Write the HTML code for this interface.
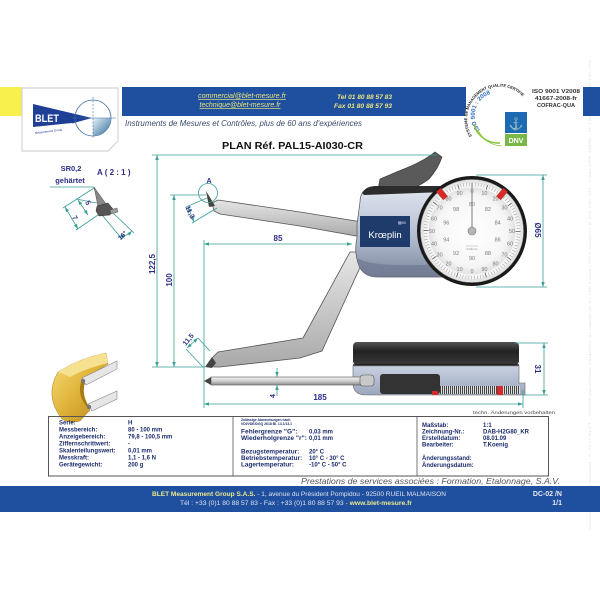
<!DOCTYPE html>
<html><head><meta charset="utf-8">
<style>
html,body{margin:0;padding:0;background:#fff;width:600px;height:600px;overflow:hidden;}
svg{display:block;}
text{font-family:"Liberation Sans",Arial,sans-serif;}
</style></head>
<body>
<svg width="600" height="600" viewBox="0 0 600 600" xmlns="http://www.w3.org/2000/svg">
<defs>
 <marker id="ar" viewBox="0 0 10 7" refX="10" refY="3.5" markerWidth="5" markerHeight="3.5" orient="auto-start-reverse" markerUnits="userSpaceOnUse"><path d="M0,0 L10,3.5 L0,7 Z" fill="#3a9e96"/></marker>
 <linearGradient id="bodyg" x1="0" y1="0" x2="0" y2="1"><stop offset="0" stop-color="#dfe5ef"/><stop offset="0.55" stop-color="#b3bdd0"/><stop offset="1" stop-color="#7c879c"/></linearGradient>
 <linearGradient id="armg" x1="0" y1="0" x2="0" y2="1"><stop offset="0" stop-color="#e6e6e6"/><stop offset="1" stop-color="#a9a9a9"/></linearGradient>
 <linearGradient id="rodg" x1="0" y1="0" x2="0" y2="1"><stop offset="0" stop-color="#f0f0f0"/><stop offset="0.5" stop-color="#cfcfcf"/><stop offset="1" stop-color="#8e8e8e"/></linearGradient>
 <linearGradient id="darkg" x1="0" y1="0" x2="0" y2="1"><stop offset="0" stop-color="#555"/><stop offset="0.4" stop-color="#222"/><stop offset="1" stop-color="#3a3a3a"/></linearGradient>
 <linearGradient id="lbg" x1="0" y1="0" x2="0" y2="1"><stop offset="0" stop-color="#c9d2e2"/><stop offset="1" stop-color="#9aa6bc"/></linearGradient>
 <radialGradient id="faceg" cx="0.5" cy="0.5" r="0.5"><stop offset="0" stop-color="#ffffff"/><stop offset="0.8" stop-color="#f6f6f6"/><stop offset="1" stop-color="#e2e2e2"/></radialGradient>
 <linearGradient id="goldg" x1="0" y1="0" x2="1" y2="1"><stop offset="0" stop-color="#f8df7a"/><stop offset="0.5" stop-color="#e0b43a"/><stop offset="1" stop-color="#b8861a"/></linearGradient>
 <linearGradient id="logoq" x1="0" y1="0" x2="1" y2="1"><stop offset="0" stop-color="#e8f2f8"/><stop offset="1" stop-color="#2a6a9a"/></linearGradient>
 <pattern id="knurl" width="2" height="8" patternUnits="userSpaceOnUse"><rect width="2" height="8" fill="#ddd"/><rect width="1" height="8" fill="#444"/></pattern>
 <path id="isoArc" d="M 472 136 A 31 31 0 1 1 527 102"/>
 <path id="isoArc2" d="M 480 130 A 21 21 0 0 1 515 101"/>
</defs>

<!-- faint watermark -->
<text transform="translate(591,530) rotate(-90)" font-size="4" fill="#e6e6e6" textLength="470" lengthAdjust="spacingAndGlyphs">Document non contractuel - © 2017 BLET - Société par Actions Simplifiée au capital de 61 200 Euros - RCS Nanterre B 302 130 783 - Code APE 4669B - N°TVA : FR 38 302 130 783</text>

<!-- HEADER -->
<rect x="0" y="87" width="22" height="29" fill="#f8f04c"/>
<rect x="122" y="87" width="344" height="29" fill="#1f4f9f"/>
<rect x="583" y="87" width="17" height="29" fill="#1f4f9f"/>
<path d="M22 88 H118 V141 L108 151 H22 Z" fill="#fff" stroke="#d4d4d4" stroke-width="1.2"/>
<!-- BLET logo -->
<polygon points="33,104 92,118 33,134" fill="#1f3e96"/>
<polygon points="33,127 72,123 74,129 33,137" fill="#fff"/>
<text x="35" y="122" font-size="11" font-weight="bold" fill="#fff" textLength="24" lengthAdjust="spacingAndGlyphs">BLET</text>
<text transform="translate(35,134) rotate(-7)" font-size="3" fill="#1f3e96">Measurement Group</text>
<circle cx="93" cy="118" r="18" fill="none" stroke="#3a6aa0" stroke-width="0.8"/>
<path d="M93 118 H111 A18 18 0 0 1 93 136 Z" fill="url(#logoq)"/>
<line x1="93" y1="97" x2="93" y2="139" stroke="#3a6aa0" stroke-width="0.6" stroke-dasharray="2 1.5"/>
<line x1="72" y1="118" x2="116" y2="118" stroke="#3a6aa0" stroke-width="0.6"/>

<text x="242" y="98" font-size="7" font-style="italic" fill="#e8e47e" text-anchor="middle" text-decoration="underline" textLength="88" lengthAdjust="spacingAndGlyphs">commercial@blet-mesure.fr</text>
<text x="240" y="107" font-size="7" font-style="italic" fill="#e8e47e" text-anchor="middle" text-decoration="underline" textLength="81" lengthAdjust="spacingAndGlyphs">technique@blet-mesure.fr</text>
<text x="392" y="99" font-size="6.8" font-style="italic" font-weight="bold" fill="#e8e47e" text-anchor="end" textLength="55" lengthAdjust="spacingAndGlyphs">Tel  01 80 88 57 83</text>
<text x="392" y="108" font-size="6.8" font-style="italic" font-weight="bold" fill="#e8e47e" text-anchor="end" textLength="58" lengthAdjust="spacingAndGlyphs">Fax 01 80 88 57 93</text>
<text x="125" y="126" font-size="8" font-style="italic" fill="#3a4a6a" textLength="237" lengthAdjust="spacingAndGlyphs">Instruments de Mesures et Contrôles, plus de 60 ans d'expériences</text>

<!-- ISO logo -->
<circle cx="498" cy="117" r="33" fill="#fff"/>
<text font-size="4" font-weight="bold" fill="#222"><textPath href="#isoArc">SYSTEME DE MANAGEMENT QUALITE CERTIFIE</textPath></text>
<text font-size="6" font-weight="bold" fill="#2b6cc4"><textPath href="#isoArc2">ISO 9001 : 2008</textPath></text>
<path d="M 474 124 A 25 25 0 0 0 500 143" fill="none" stroke="#8cc63f" stroke-width="1.6"/>
<path d="M 478 130 A 27 27 0 0 0 502 146" fill="none" stroke="#8cc63f" stroke-width="0.8"/>
<rect x="505" y="112" width="22" height="21" fill="#1d6ab4"/>
<text x="516" y="128" font-size="12" fill="#fff" text-anchor="middle">⚓</text>
<rect x="505" y="134" width="22" height="12" fill="#7ab648"/>
<text x="516" y="143" font-size="7" font-weight="bold" fill="#fff" text-anchor="middle">DNV</text>
<text x="556" y="93" font-size="5.5" font-weight="bold" fill="#333" text-anchor="middle" textLength="48" lengthAdjust="spacingAndGlyphs">ISO 9001 V2008</text>
<text x="556" y="100" font-size="5.5" font-weight="bold" fill="#333" text-anchor="middle" textLength="42" lengthAdjust="spacingAndGlyphs">41667-2008-fr</text>
<text x="556" y="107" font-size="5.5" font-weight="bold" fill="#333" text-anchor="middle" textLength="38" lengthAdjust="spacingAndGlyphs">COFRAC-QUA</text>

<text x="222" y="149" font-size="10.5" font-weight="bold" fill="#111" textLength="141" lengthAdjust="spacingAndGlyphs">PLAN  Réf. PAL15-AI030-CR</text>

<!-- CALIPER DRAWING -->
<!-- upper arm -->
<polygon points="212,203 218,200 300,212 362,222 362,237 300,226 220,214 214,211" fill="url(#armg)" stroke="#555" stroke-width="0.8"/>
<polygon points="206,191 211,199 215,206 209,207" fill="#444"/>
<!-- lower arm -->
<polygon points="212,358 218,352 303,338 350,252 367,252 322,351 300,358 220,367 214,367" fill="url(#armg)" stroke="#555" stroke-width="0.8"/>
<polygon points="205,367 212,357 216,363 212,368" fill="#444"/>

<!-- lever -->
<path d="M377 194 L380 179 Q396 172 411 166 Q425 160 435 152 L442 157 Q438 169 429 179 Q416 189 400 192 L392 196 Z" fill="#5a5a5a" stroke="#333" stroke-width="0.6"/>
<!-- body -->
<path d="M360 202 Q360 188 374 188 L446 188 L446 277 L378 277 Q362 277 358 263 Q354 250 357 238 L357 224 Z" fill="url(#bodyg)" stroke="#555" stroke-width="0.7"/>
<path d="M362 193 Q366 186 376 186 L444 186 L444 192 L364 195 Z" fill="#2c2c2c"/>
<path d="M358 258 Q370 268 446 264 L446 277 L378 277 Q362 277 358 263 Z" fill="#6e7890" opacity="0.7"/>
<rect x="360" y="216" width="50" height="31" fill="#1f3b6b"/>
<text x="385" y="238" font-size="9.5" fill="#fff" text-anchor="middle" font-family="Liberation Serif, serif">Krœplin</text>
<text x="402" y="224" font-size="4" fill="#d0d8e8" text-anchor="middle">▦80</text>

<!-- dial -->
<circle cx="472" cy="231" r="55" fill="#1a1a1a"/>
<circle cx="472" cy="231" r="51.5" fill="#f7f7f7" stroke="#888" stroke-width="0.6"/>
<circle cx="472" cy="231" r="49.5" fill="none" stroke="#e4e4e4" stroke-width="3"/>
<circle cx="472" cy="231" r="46.5" fill="none" stroke="#8a8a8a" stroke-width="3.5" stroke-dasharray="0.45 2.47"/>
<circle cx="472" cy="231" r="46" fill="none" stroke="#666" stroke-width="5" stroke-dasharray="0.8 28.1"/>
<circle cx="472" cy="231" r="43.5" fill="url(#faceg)"/>
<g font-size="5.5" fill="#7a7a7a" text-anchor="middle">
<text x="472" y="193">0</text><text x="484.4" y="195">10</text><text x="495.5" y="200.6">20</text><text x="504.4" y="209.5">30</text><text x="510" y="220.6">40</text><text x="512" y="233">50</text><text x="510" y="245.4">60</text><text x="504.4" y="256.5">70</text><text x="495.5" y="265.4">80</text><text x="484.4" y="271">90</text><text x="472" y="273">0</text><text x="459.6" y="271">10</text><text x="448.5" y="265.4">20</text><text x="439.6" y="256.5">30</text><text x="434" y="245.4">40</text><text x="432" y="233">50</text><text x="434" y="220.6">60</text><text x="439.6" y="209.5">70</text><text x="448.5" y="200.6">80</text><text x="459.6" y="195">90</text>
<text x="472" y="206">80</text><text x="487.9" y="211.2">82</text><text x="497.7" y="224.7">84</text><text x="497.7" y="241.3">86</text><text x="487.9" y="254.8">88</text><text x="472" y="260">90</text><text x="456.1" y="254.8">92</text><text x="446.3" y="241.3">94</text><text x="446.3" y="224.7">96</text><text x="456.1" y="211.2">98</text>
</g>
<line x1="466" y1="246" x2="478" y2="246" stroke="#999" stroke-width="0.4"/>
<text x="472" y="250" font-size="3" fill="#888" text-anchor="middle">0,01mm</text>
<line x1="472" y1="231" x2="472" y2="183" stroke="#999" stroke-width="1.3"/>
<circle cx="472" cy="231" r="4" fill="#b5b5b5" stroke="#777" stroke-width="0.6"/>
<rect x="439" y="188.5" width="6" height="11" fill="#d42a2a" transform="rotate(-40 442 194)"/>
<rect x="499" y="188.5" width="6" height="11" fill="#d42a2a" transform="rotate(40 502 194)"/>

<!-- bottom side view -->
<path d="M353 366 L519 366 L519 383 L525 383 L525 395 L366 395 Q353 395 353 383 Z" fill="url(#lbg)" stroke="#666" stroke-width="0.6"/>
<rect x="353" y="342" width="166" height="23" rx="4" fill="url(#darkg)"/>
<line x1="353" y1="365" x2="519" y2="365" stroke="#111" stroke-width="1.2"/>
<rect x="380" y="374" width="60" height="20" rx="3" fill="#333"/>
<rect x="440" y="386" width="80" height="8" fill="url(#knurl)"/>
<rect x="432" y="391" width="6" height="4" fill="#d42a2a"/>
<rect x="497" y="386" width="6" height="9" fill="#d42a2a"/>
<!-- rod -->
<rect x="211" y="377" width="156" height="8" fill="url(#rodg)" stroke="#555" stroke-width="0.6"/>
<polygon points="204,381 211,377 211,385" fill="#444"/>
<rect x="360" y="375" width="14" height="11" rx="3" fill="#c9c9c9" stroke="#555" stroke-width="0.6"/>

<!-- brass ring image -->
<path d="M72 376 Q63 394 76 412 L90 408 Q80 394 86 380 Z" fill="#a87a12"/>
<path d="M58 372 Q44 396 62 419 Q70 424 80 421 L90 410 Q76 396 82 380 L108 364 L106 353 Q80 358 58 372 Z" fill="url(#goldg)" stroke="#a27a18" stroke-width="0.5"/>
<path d="M58 372 Q80 358 106 353 L108 363 Q84 369 70 377 Z" fill="#f6e190"/>
<polygon points="82,378 117,361 117,369 86,385" fill="#e6e6e6" stroke="#888" stroke-width="0.6"/>
<polygon points="88,404 117,391 117,399 92,411" fill="#e6e6e6" stroke="#888" stroke-width="0.6"/>
<circle cx="83" cy="381" r="2.2" fill="#777"/>
<circle cx="89" cy="407" r="2.2" fill="#777"/>

<!-- DIMENSIONS -->
<g stroke="#3a9e96" stroke-width="0.8" fill="none">
 <line x1="152" y1="155" x2="437" y2="155"/>
 <line x1="152" y1="367" x2="205" y2="367"/>
 <line x1="170" y1="195" x2="206" y2="195"/>
 <line x1="204" y1="240" x2="204" y2="408"/>
 <line x1="523" y1="390" x2="523" y2="408"/>
 <line x1="476" y1="175" x2="547" y2="175"/>
 <line x1="476" y1="287" x2="547" y2="287"/>
 <line x1="515" y1="343" x2="548" y2="343"/>
 <line x1="523" y1="395" x2="548" y2="395"/>
 <line x1="157" y1="155" x2="157" y2="367" marker-start="url(#ar)" marker-end="url(#ar)"/>
 <line x1="174" y1="195" x2="174" y2="367" marker-start="url(#ar)" marker-end="url(#ar)"/>
 <line x1="204" y1="244" x2="352" y2="244" marker-start="url(#ar)" marker-end="url(#ar)"/>
 <line x1="204" y1="404" x2="523" y2="404" marker-start="url(#ar)" marker-end="url(#ar)"/>
 <line x1="543" y1="175" x2="543" y2="287" marker-start="url(#ar)" marker-end="url(#ar)"/>
 <line x1="544" y1="343" x2="544" y2="395" marker-start="url(#ar)" marker-end="url(#ar)"/>
 <line x1="277" y1="368" x2="277" y2="377" marker-end="url(#ar)"/>
 <line x1="277" y1="396" x2="277" y2="385" marker-end="url(#ar)"/>
 <circle cx="208" cy="193" r="9.5"/>
 <line x1="207" y1="198" x2="186" y2="207"/>
 <line x1="217" y1="208" x2="192" y2="223"/>
 <line x1="188" y1="207" x2="194" y2="222" marker-start="url(#ar)" marker-end="url(#ar)"/>
 <line x1="198" y1="338" x2="210" y2="351"/>
 <line x1="186" y1="349" x2="203" y2="367"/>
 <line x1="187" y1="348" x2="198" y2="338" marker-start="url(#ar)" marker-end="url(#ar)"/>
 <!-- detail A -->
 <line x1="50" y1="187" x2="94" y2="187"/>
 <line x1="94" y1="188" x2="63" y2="208"/>
 <line x1="101" y1="213" x2="76" y2="230"/>
 <line x1="65" y1="207" x2="78" y2="229" marker-start="url(#ar)" marker-end="url(#ar)"/>
 <line x1="97" y1="203" x2="76" y2="199"/>
 <line x1="78" y1="200" x2="88" y2="215" marker-start="url(#ar)" marker-end="url(#ar)"/>
 <line x1="102" y1="215" x2="122" y2="239"/>
 <line x1="111" y1="211" x2="134" y2="233"/>
 <path d="M119 236 Q126 237 132 231" marker-start="url(#ar)" marker-end="url(#ar)"/>
</g>
<!-- detail A tip -->
<polygon points="94,187 98,206 106,204" fill="#888" stroke="#444" stroke-width="0.5"/>
<polygon points="97,206 108,203 113,209 110,215 99,216 96,211" fill="#555" stroke="#333" stroke-width="0.5"/>
<polygon points="110,210 117,208 118,212 111,214" fill="#999" stroke="#444" stroke-width="0.4"/>

<g font-weight="bold" fill="#2b2e86" font-size="8">
 <text x="278" y="241" text-anchor="middle">85</text>
 <text x="320" y="400" text-anchor="middle">185</text>
 <text transform="translate(155,264) rotate(-90)" text-anchor="middle">122,5</text>
 <text transform="translate(172,280) rotate(-90)" text-anchor="middle">100</text>
 <text transform="translate(535,230) rotate(90)" text-anchor="middle">Ø65</text>
 <text transform="translate(535,369) rotate(90)" text-anchor="middle">31</text>
 <text transform="translate(275,396) rotate(-90)" text-anchor="middle" font-size="7">4</text>
 <text transform="translate(188,213) rotate(65)" text-anchor="middle" font-size="7">11,3</text>
 <text transform="translate(190,341) rotate(-50)" text-anchor="middle" font-size="7">11,5</text>
 <text x="209" y="183" text-anchor="middle" font-size="7">A</text>
 <text x="71" y="171" text-anchor="middle" font-size="7.5">SR0,2</text>
 <text x="70" y="183" text-anchor="middle" font-size="7.5">gehärtet</text>
 <text x="97" y="175" font-size="8">A ( 2 : 1 )</text>
 <text transform="translate(86,204) rotate(60)" text-anchor="middle" font-size="7">5</text>
 <text transform="translate(73,219) rotate(60)" text-anchor="middle" font-size="7">7</text>
 <text transform="translate(124,237) rotate(-45)" text-anchor="middle" font-size="6.5">16°</text>
</g>
<text x="473" y="414" font-size="4.5" fill="#444" textLength="82" lengthAdjust="spacingAndGlyphs">techn. Änderungen vorbehalten</text>

<!-- TABLE -->
<rect x="48.5" y="416.5" width="500" height="59.5" fill="none" stroke="#555" stroke-width="1"/>
<line x1="233" y1="417" x2="233" y2="476" stroke="#555" stroke-width="0.8"/>
<line x1="417" y1="417" x2="417" y2="476" stroke="#555" stroke-width="0.8"/>
<g font-size="6" font-weight="bold" fill="#1c2c6c">
 <text x="59" y="424.3">Serie:</text><text x="128" y="424.3">H</text>
 <text x="59" y="431.3">Messbereich:</text><text x="128" y="431.3">80 - 100 mm</text>
 <text x="59" y="438.3">Anzeigebereich:</text><text x="128" y="438.3">79,8 - 100,5 mm</text>
 <text x="59" y="445.3">Ziffernschrittwert:</text><text x="128" y="445.3">-</text>
 <text x="59" y="452.3">Skalenteilungswert:</text><text x="128" y="452.3">0,01 mm</text>
 <text x="59" y="459.3">Messkraft:</text><text x="128" y="459.3">1,1 - 1,6 N</text>
 <text x="59" y="466.3">Gerätegewicht:</text><text x="128" y="466.3">200 g</text>
 <text x="241" y="421" font-size="3.4">Zulässige Abweichungen nach</text>
 <text x="241" y="425" font-size="3.4">VDI/VDE/DGQ 2618 Bl. 13.1/13.1</text>
 <text x="241" y="433.5" font-size="6.6">Fehlergrenze "G":</text><text x="309" y="433.5">0,03 mm</text>
 <text x="241" y="440" font-size="6.6">Wiederholgrenze "r":</text><text x="309" y="440">0,01 mm</text>
 <text x="241" y="453.5" font-size="6.4">Bezugstemperatur:</text><text x="309" y="453.5">20° C</text>
 <text x="241" y="460" font-size="6.4">Betriebstemperatur:</text><text x="309" y="460">10° C - 30° C</text>
 <text x="241" y="466.5" font-size="6.4">Lagertemperatur:</text><text x="309" y="466.5">-10° C - 50° C</text>
 <text x="422" y="427">Maßstab:</text><text x="483" y="427">1:1</text>
 <text x="422" y="433.5">Zeichnung-Nr.:</text><text x="483" y="433.5">DAB-H2G80_KR</text>
 <text x="422" y="440">Erstelldatum:</text><text x="483" y="440">08.01.09</text>
 <text x="422" y="446.5">Bearbeiter:</text><text x="483" y="446.5">T.Koenig</text>
 <text x="422" y="460">Änderungsstand:</text>
 <text x="422" y="467">Änderungsdatum:</text>
</g>

<text x="301" y="484" font-size="8.3" font-style="italic" fill="#555" textLength="259" lengthAdjust="spacingAndGlyphs">Prestations de services associées : Formation, Etalonnage, S.A.V.</text>

<!-- FOOTER -->
<rect x="0" y="486" width="600" height="26" fill="#1f4f9f"/>
<text x="152" y="496" font-size="6.5" fill="#dfe3ee" textLength="294" lengthAdjust="spacingAndGlyphs"><tspan font-weight="bold" fill="#ecea8e">BLET  Measurement Group S.A.S.</tspan> - 1, avenue du Président Pompidou - 92500 RUEIL MALMAISON</text>
<text x="180" y="505" font-size="6.2" fill="#dfe3ee" textLength="232" lengthAdjust="spacingAndGlyphs">Tél : +33 (0)1 80 88 57 83 - Fax : +33 (0)1 80 88 57 93 - <tspan font-weight="bold" fill="#ecea8e">www.blet-mesure.fr</tspan></text>
<text x="562" y="496" font-size="7" font-weight="bold" fill="#e6e8f0" text-anchor="end">DC-02 /N</text>
<text x="562" y="505" font-size="7" font-weight="bold" fill="#e6e8f0" text-anchor="end">1/1</text>
</svg>
</body></html>
